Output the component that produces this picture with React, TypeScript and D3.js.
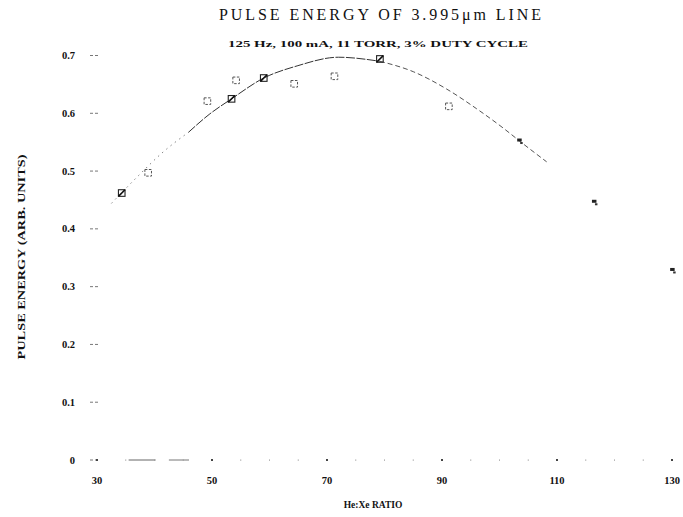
import React from "react";
import * as d3 from "d3";

// Measured pulse energy vs. He:Xe mixture ratio
const heXeRatio = [34.3, 38.9, 49.2, 53.4, 54.2, 59.0, 64.3, 71.3, 79.2, 91.2, 103.6, 116.6, 130.2];
const pulseEnergy = [0.462, 0.497, 0.621, 0.625, 0.657, 0.661, 0.651, 0.664, 0.694, 0.612, 0.552, 0.446, 0.328];
const markerKind = ["cross", "open", "open", "cross", "open", "cross", "open", "open", "cross", "open", "blob", "blob", "blob"];

// Fitted trend curve through the data
const fitRatio = [32.5, 37, 41.5, 45.9, 49.5, 53.4, 59.0, 64.8, 72.0, 79.2, 85, 90.8, 96, 100.7, 104, 108.2];
const fitEnergy = [0.444, 0.49, 0.533, 0.567, 0.598, 0.625, 0.661, 0.682, 0.697, 0.69, 0.672, 0.642, 0.608, 0.574, 0.548, 0.516];

const xTicks = [30, 50, 70, 90, 110, 130];
const xMinorTicks = [35, 40, 45, 55, 60, 65, 75, 80, 85, 95, 100, 105, 115, 120, 125];
const yTicks = [0, 0.1, 0.2, 0.3, 0.4, 0.5, 0.6, 0.7];

const W = 683;
const H = 517;

export default function App() {
  const x = d3.scaleLinear().domain([30, 130]).range([97, 672]);
  const y = d3.scaleLinear().domain([0, 0.7]).range([460, 55.5]);

  const fitPts: [number, number][] = fitRatio.map((r, i) => [r, fitEnergy[i]]);
  const line = d3
    .line<[number, number]>()
    .x((d) => x(d[0]))
    .y((d) => y(d[1]))
    .curve(d3.curveMonotoneX);

  const left = fitPts.filter((d) => d[0] <= 46);
  const mid = fitPts.filter((d) => d[0] >= 45.9 && d[0] <= 80);
  const right = fitPts.filter((d) => d[0] >= 79.2);

  const serif = "'Liberation Serif', 'DejaVu Serif', serif";

  return (
    <div style={{ position: "fixed", left: 0, top: 0, background: "#fff" }}>
      <svg width={W} height={H} viewBox={`0 0 ${W} ${H}`} style={{ display: "block" }}>
        <rect x={0} y={0} width={W} height={H} fill="#fff" />

        {/* titles */}
        <text
          x={380}
          y={20}
          textAnchor="middle"
          fontFamily={serif}
          fontSize={16}
          textLength={322}
          lengthAdjust="spacing"
          fill="#111"
        >
          PULSE ENERGY OF 3.995μm LINE
        </text>
        <text
          x={378}
          y={47}
          textAnchor="middle"
          fontFamily={serif}
          fontWeight="bold"
          fontSize={9}
          textLength={300}
          lengthAdjust="spacingAndGlyphs"
          fill="#111"
        >
          125 Hz, 100 mA, 11 TORR, 3% DUTY CYCLE
        </text>

        {/* y axis */}
        {yTicks.map((t) => (
          <g key={"y" + t}>
            <text
              x={75}
              y={y(t) + 3.5}
              textAnchor="end"
              fontFamily={serif}
              fontWeight="bold"
              fontSize={10.5}
              fill="#111"
            >
              {t === 0 ? "0" : t.toFixed(1)}
            </text>
            <line x1={90} x2={98} y1={y(t)} y2={y(t)} stroke="#777" strokeWidth={1} strokeDasharray="3,2" />
          </g>
        ))}
        <text
          transform={`translate(25,257) rotate(-90)`}
          textAnchor="middle"
          fontFamily={serif}
          fontWeight="bold"
          fontSize={9.5}
          textLength={205}
          lengthAdjust="spacingAndGlyphs"
          fill="#111"
        >
          PULSE ENERGY (ARB. UNITS)
        </text>

        {/* x axis */}
        <line x1={x(35.5)} x2={x(40.2)} y1={y(0)} y2={y(0)} stroke="#666" strokeWidth={1} />
        <line x1={x(42.5)} x2={x(46)} y1={y(0)} y2={y(0)} stroke="#777" strokeWidth={1} />
        {xTicks.map((t) => (
          <g key={"x" + t}>
            <rect x={x(t) - 1} y={y(0) - 1} width={2} height={2} fill="#444" />
            <text x={x(t)} y={484} textAnchor="middle" fontFamily={serif} fontWeight="bold" fontSize={10.5} fill="#111">
              {t}
            </text>
          </g>
        ))}
        {xMinorTicks.map((t) => (
          <rect key={"m" + t} x={x(t) - 0.5} y={y(0) - 0.5} width={1} height={1.2} fill="#999" />
        ))}
        <text x={373} y={508} textAnchor="middle" fontFamily={serif} fontWeight="bold" fontSize={9.5} fill="#111">
          He:Xe RATIO
        </text>

        {/* fitted curve */}
        <path d={line(left) || ""} fill="none" stroke="#777" strokeWidth={0.9} strokeDasharray="1.5,4" />
        <path d={line(mid) || ""} fill="none" stroke="#333" strokeWidth={1} strokeDasharray="9,1.5" />
        <path d={line(right) || ""} fill="none" stroke="#555" strokeWidth={1} strokeDasharray="5,3" />

        {/* data points */}
        {heXeRatio.map((r, i) => {
          const cx = x(r);
          const cy = y(pulseEnergy[i]);
          const k = markerKind[i];
          const s = 3.3;
          if (k === "blob") {
            return (
              <g key={"p" + i}>
                <rect x={cx - 3} y={cy - 2.5} width={4.5} height={3} fill="#222" />
                <rect x={cx} y={cy + 1} width={2.5} height={2} fill="#333" />
              </g>
            );
          }
          if (k === "cross") {
            return (
              <g key={"p" + i}>
                <rect x={cx - s} y={cy - s} width={2 * s} height={2 * s} fill="none" stroke="#222" strokeWidth={1.1} />
                <line x1={cx - s} y1={cy + s} x2={cx + s} y2={cy - s} stroke="#111" strokeWidth={1.6} />
              </g>
            );
          }
          return (
            <rect
              key={"p" + i}
              x={cx - s}
              y={cy - s}
              width={2 * s}
              height={2 * s}
              fill="none"
              stroke="#555"
              strokeWidth={1}
              strokeDasharray="2.5,1.5"
            />
          );
        })}
      </svg>
    </div>
  );
}
